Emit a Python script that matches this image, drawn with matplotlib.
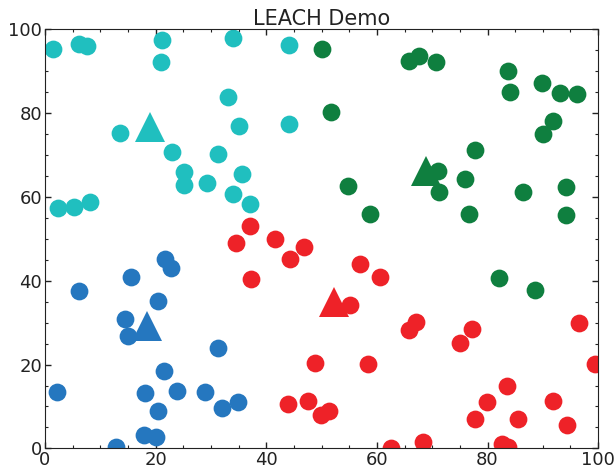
import numpy as np
import matplotlib
matplotlib.use('Agg')
from matplotlib import pyplot as plt
from matplotlib.ticker import MultipleLocator

# cluster members
cyan_x = [1.5, 6.2, 7.6, 21.1, 21.0, 34.0, 44.2, 33.0, 13.6, 35.1, 44.2, 22.9, 31.3,
          25.2, 35.7, 25.2, 29.3, 34.0, 37.1, 2.3, 5.2, 8.1]
cyan_y = [95.2, 96.4, 96.1, 97.4, 92.1, 97.9, 96.3, 83.8, 75.3, 76.9, 77.4, 70.7, 70.2,
          65.9, 65.4, 62.8, 63.3, 60.7, 58.2, 57.3, 57.5, 58.9]

green_x = [50.1, 65.8, 67.6, 70.7, 83.7, 84.1, 89.9, 93.1, 96.2, 51.7, 91.8, 90.1, 77.8,
           71.1, 75.9, 54.8, 71.2, 86.4, 94.2, 58.7, 76.7, 94.2, 82.1, 88.6]
green_y = [95.2, 92.4, 93.6, 92.2, 90.0, 85.0, 87.1, 84.9, 84.5, 80.2, 78.0, 75.0, 71.3,
           66.3, 64.3, 62.7, 61.2, 61.1, 62.4, 56.0, 55.9, 55.7, 40.7, 37.9]

red_x = [34.5, 37.1, 41.6, 46.9, 44.3, 37.2, 57.0, 60.6, 55.1, 67.1, 65.8, 77.2, 75.1,
         96.6, 48.9, 58.4, 99.4, 83.6, 44.0, 47.6, 79.9, 91.9, 51.3, 49.9, 77.7, 85.5,
         94.4, 68.3, 62.5, 82.7, 83.7]
red_y = [49.1, 53.0, 49.9, 48.0, 45.1, 40.3, 44.0, 41.0, 34.3, 30.2, 28.3, 28.5, 25.2,
         29.8, 20.4, 20.1, 20.1, 14.8, 10.5, 11.3, 11.0, 11.3, 8.9, 7.9, 6.9, 6.9,
         5.6, 1.5, 0.0, 1.1, 0.4]

blue_x = [21.7, 22.7, 15.5, 6.1, 20.4, 14.5, 15.1, 31.3, 21.5, 2.1, 18.1, 23.9, 29.0,
          32.0, 34.9, 20.4, 17.9, 20.0, 12.8]
blue_y = [45.1, 43.1, 40.8, 37.5, 35.2, 30.9, 26.8, 24.0, 18.5, 13.4, 13.2, 13.7, 13.5,
          9.7, 11.1, 9.0, 3.3, 2.8, 0.3]

# cluster heads
head_x = [19.0, 68.9, 52.2, 18.4]
head_y = [76.6, 66.3, 35.0, 29.1]

colors = ['#20bfbf', '#0f7f3f', '#ee2228', '#2577bf']

fig = plt.figure(figsize=(6.16, 4.72), dpi=100)
ax = fig.add_axes([0.073, 0.050, 0.898, 0.888])

groups = [(cyan_x, cyan_y), (green_x, green_y), (red_x, red_y), (blue_x, blue_y)]
for (gx, gy), c in zip(groups, colors):
    ax.plot(gx, gy, 'o', color=c, markersize=12.8, markeredgewidth=0)

for hx, hy, c in zip(head_x, head_y, colors):
    ax.plot(hx, hy, '^', color=c, markersize=21, markeredgewidth=0)

ax.set_xlim(0, 100)
ax.set_ylim(0, 100)
ax.xaxis.set_major_locator(MultipleLocator(20))
ax.yaxis.set_major_locator(MultipleLocator(20))
ax.xaxis.set_minor_locator(MultipleLocator(5))
ax.yaxis.set_minor_locator(MultipleLocator(5))
ax.tick_params(which='both', direction='in', top=True, right=True, labelsize=13,
               colors='#222222', pad=2)
ax.tick_params(which='major', length=4, width=1)
ax.tick_params(which='minor', length=2.2, width=0.8)
for s in ax.spines.values():
    s.set_color('#222222')

ax.set_title('LEACH Demo', fontsize=15, color='#222222', pad=3)

plt.savefig('out.png', dpi=100)
